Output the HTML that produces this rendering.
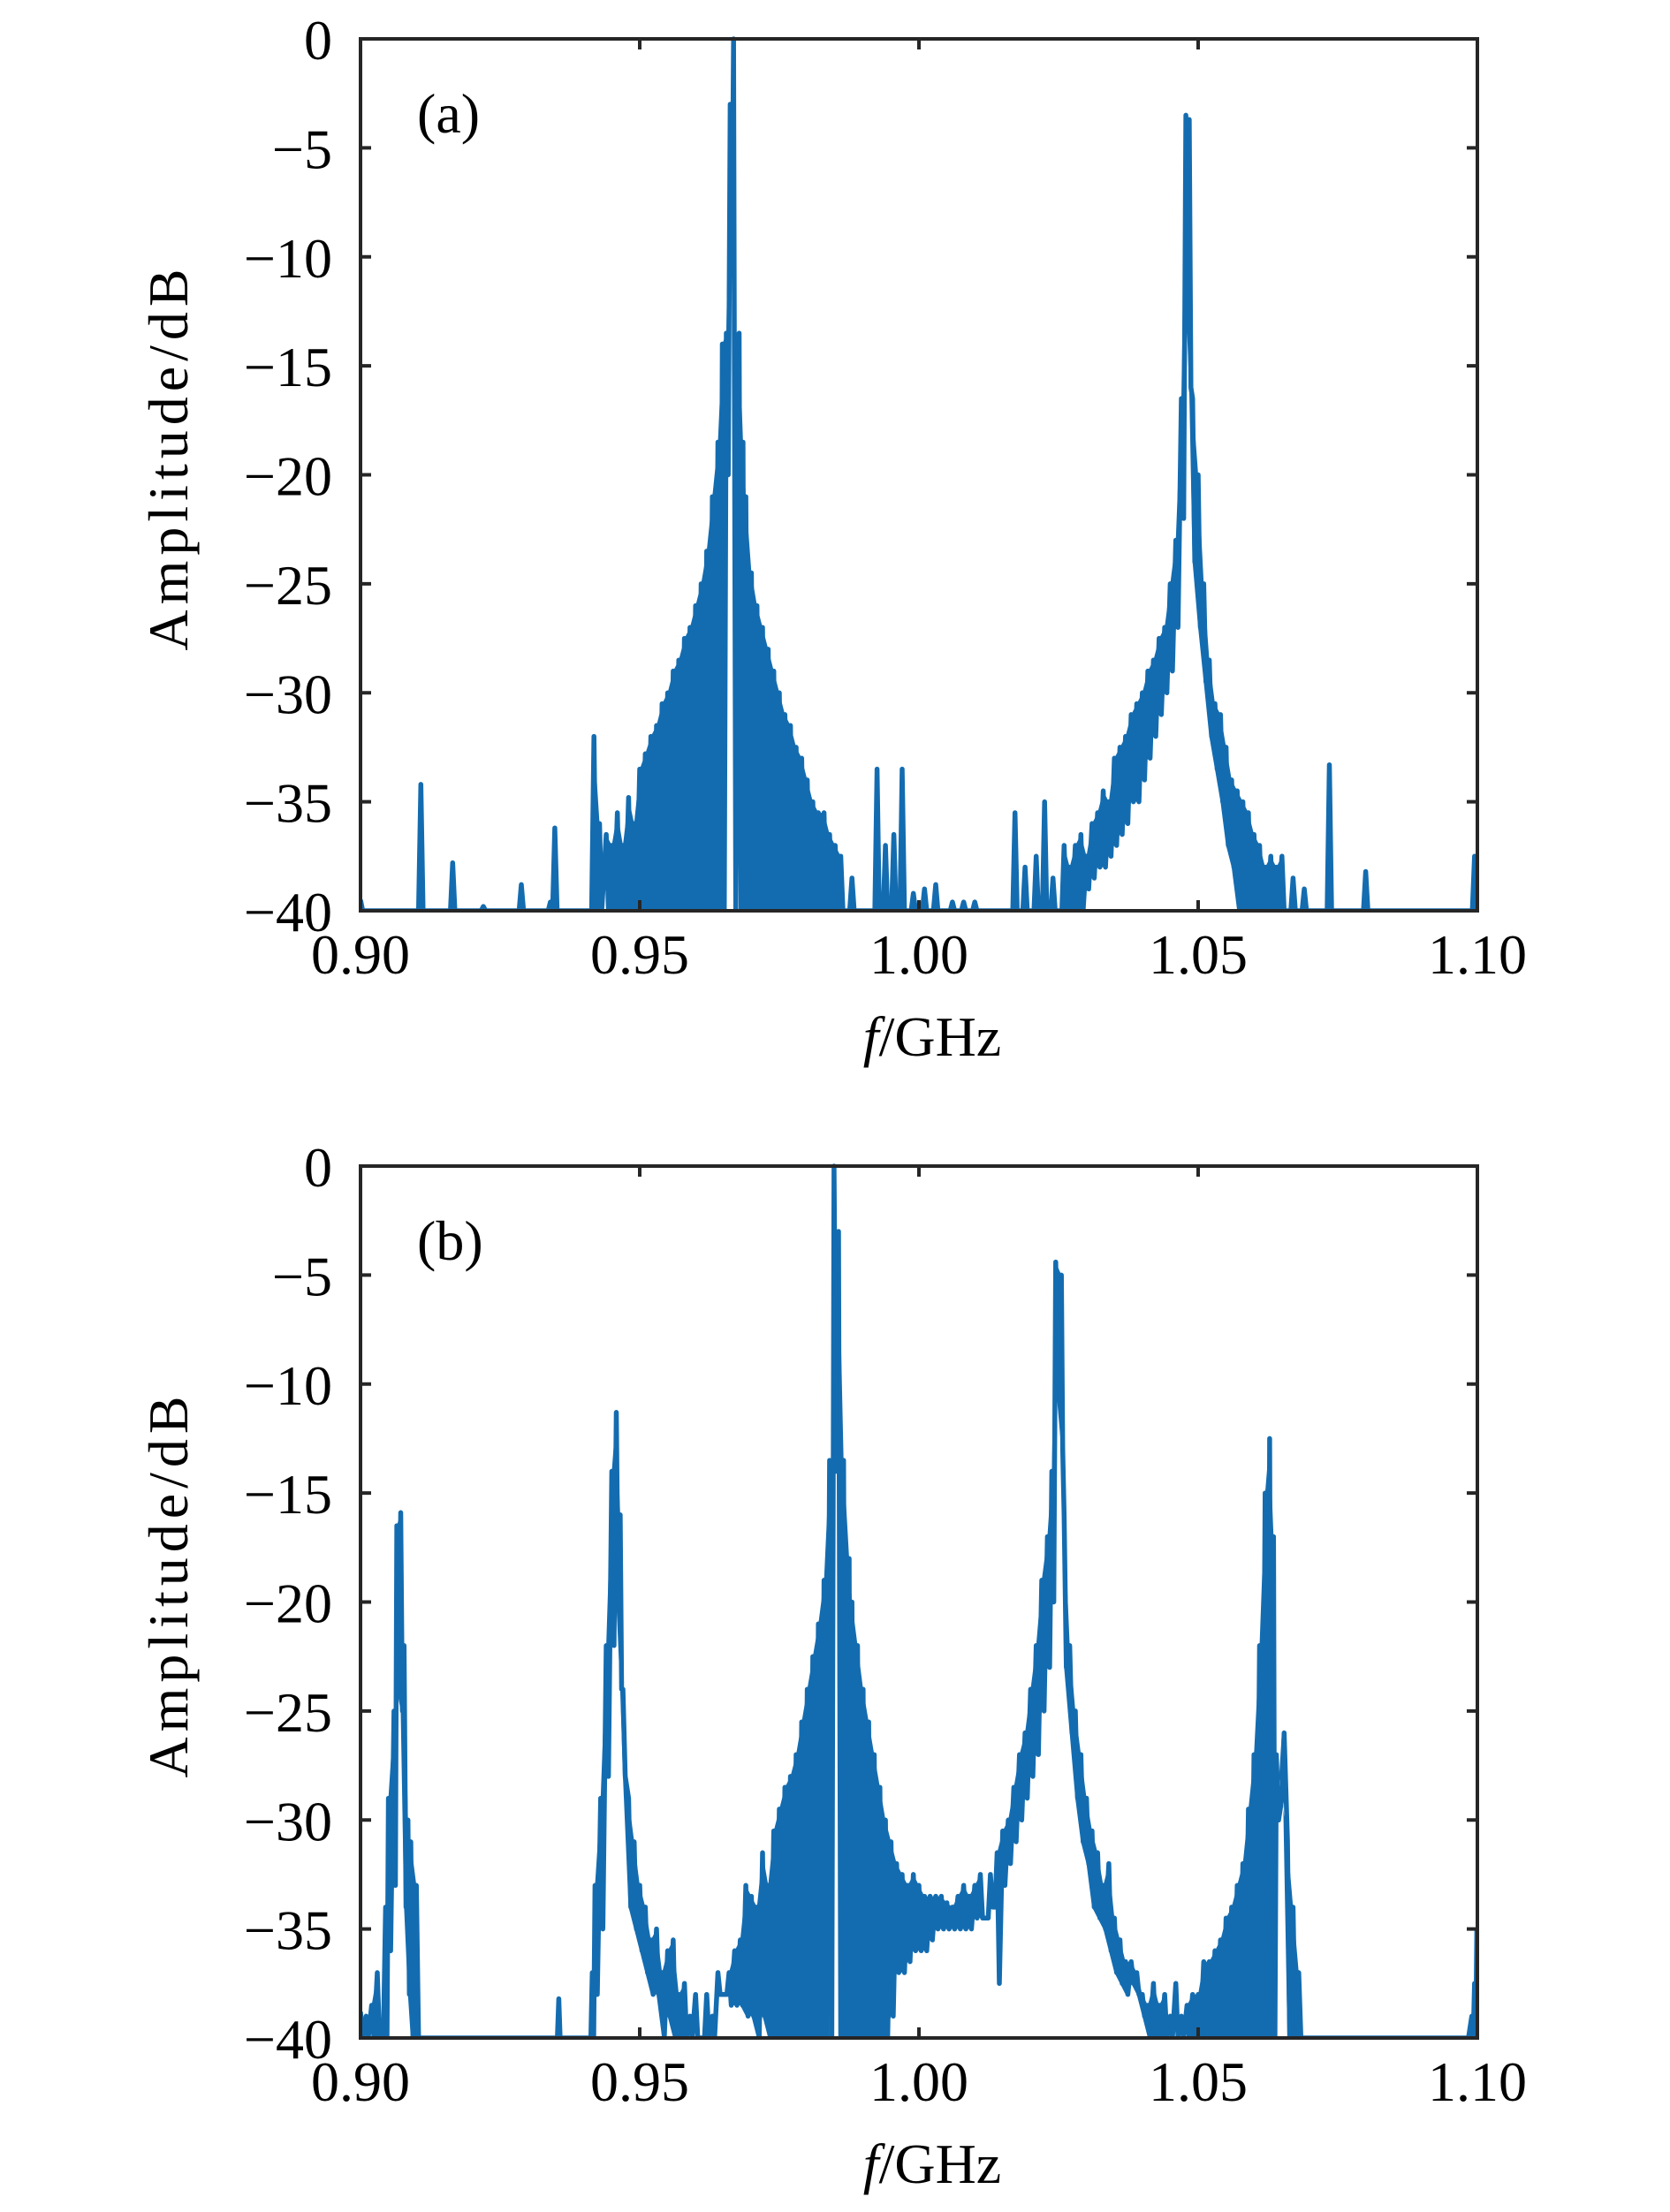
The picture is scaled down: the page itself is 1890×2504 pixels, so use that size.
<!DOCTYPE html>
<html><head><meta charset="utf-8">
<style>
html,body{margin:0;padding:0;background:#fff;}
svg{display:block;}
text{font-family:"Liberation Serif",serif;fill:#000;}
</style></head>
<body>
<svg id="chart" width="1890" height="2504" viewBox="0 0 1890 2504" xmlns="http://www.w3.org/2000/svg"></svg>
<script>
// Panel (a) data: frequency (GHz), upper and lower amplitude (dB)
const freqA = [0.900,0.910,0.9108,0.9165,0.922,0.9288,0.934,0.9348,0.9418,0.9428,0.944,0.945,0.946,0.947,0.948,0.949,0.950,0.951,0.952,0.953,0.954,0.955,0.956,0.957,0.958,0.959,0.960,0.961,0.962,0.963,0.964,0.9648,0.9655,0.9662,0.9668,0.9678,0.9685,0.969,0.970,0.971,0.972,0.973,0.974,0.975,0.976,0.977,0.978,0.979,0.980,0.981,0.982,0.983,0.984,0.985,0.986,0.988,0.9925,0.994,0.9955,0.997,0.999,1.001,1.003,1.006,1.008,1.010,1.0172,1.019,1.021,1.0225,1.024,1.026,1.027,1.028,1.029,1.030,1.031,1.032,1.033,1.034,1.035,1.036,1.037,1.038,1.039,1.040,1.041,1.042,1.043,1.044,1.045,1.046,1.047,1.0478,1.0484,1.049,1.050,1.051,1.052,1.053,1.054,1.055,1.056,1.057,1.058,1.059,1.060,1.061,1.062,1.063,1.064,1.065,1.067,1.069,1.0735,1.0745,1.080,1.081,1.0995,1.0999];
const hiA = [-39.5,-40,-34.2,-37.8,-39.8,-38.8,-39.6,-36.2,-32.0,-36,-36.5,-37,-35.5,-37,-34.8,-36,-33.5,-32.8,-32,-31.5,-30.5,-30,-29,-28.5,-27.5,-27,-26,-25,-23.5,-21,-18.5,-14,-13.5,-3,0,-13.5,-18.5,-21,-24.5,-26,-27,-28,-29,-30,-31,-31.5,-32.5,-33,-34,-35,-35.5,-35.5,-36.5,-37,-37.5,-38.5,-33.5,-37,-36.5,-33.5,-39.2,-39,-38.8,-39.6,-39.6,-39.6,-35.5,-38,-37.5,-35,-38.5,-37,-38,-37,-36.5,-37.5,-36,-35.5,-34.5,-35,-33,-32.5,-32,-31,-30.5,-30,-29,-28.5,-27.5,-27,-25,-23,-16.5,-3.5,-3.7,-16.5,-20,-25,-28.5,-30.5,-31,-32.5,-34,-34.5,-35,-35.5,-36.5,-37,-38,-37.5,-38,-37.5,-38.5,-39,-33.3,-40,-38.2,-40,-37.5,-40];
const loA = [-40,-40,-40,-40,-40,-40,-40,-40,-40,-40,-40,-40,-40,-40,-40,-40,-40,-40,-40,-40,-40,-40,-40,-40,-40,-40,-40,-40,-40,-40,-40,-40,-20,-10,-40,-40,-40,-40,-40,-40,-40,-40,-40,-40,-40,-40,-40,-40,-40,-40,-40,-40,-40,-40,-40,-40,-40,-40,-40,-40,-40,-40,-40,-40,-40,-40,-40,-40,-40,-40,-40,-40,-40,-40,-40,-39,-38.5,-38,-38,-37.5,-37,-36.5,-36,-35,-35,-34,-33,-32,-31,-30,-29,-27,-22,-12,-16,-24,-27,-29.5,-32,-33.5,-35,-37,-38,-40,-40,-40,-40,-40,-40,-40,-40,-40,-40,-40,-40,-40,-40,-40,-40,-40];
// Panel (b) data
const freqB = [0.900,0.901,0.902,0.903,0.9045,0.905,0.906,0.9065,0.9072,0.9078,0.9085,0.909,0.910,0.911,0.935,0.9355,0.936,0.941,0.9415,0.942,0.943,0.944,0.945,0.9458,0.9465,0.947,0.948,0.949,0.950,0.951,0.952,0.953,0.954,0.955,0.956,0.957,0.958,0.959,0.960,0.962,0.963,0.964,0.966,0.967,0.968,0.969,0.970,0.971,0.972,0.973,0.974,0.975,0.976,0.977,0.978,0.979,0.980,0.981,0.982,0.983,0.984,0.9848,0.9856,0.9865,0.9875,0.988,0.989,0.990,0.991,0.992,0.993,0.994,0.995,0.996,0.997,0.998,0.999,1.000,1.001,1.002,1.003,1.004,1.005,1.006,1.007,1.008,1.009,1.010,1.011,1.0128,1.014,1.015,1.016,1.017,1.018,1.019,1.020,1.021,1.022,1.023,1.0238,1.0245,1.0255,1.026,1.027,1.028,1.029,1.030,1.031,1.032,1.033,1.034,1.035,1.036,1.037,1.038,1.039,1.040,1.041,1.042,1.043,1.044,1.045,1.046,1.047,1.048,1.049,1.050,1.051,1.052,1.053,1.054,1.055,1.056,1.057,1.058,1.059,1.060,1.061,1.062,1.0628,1.0635,1.064,1.065,1.066,1.067,1.068,1.069,1.097,1.098,1.099,1.0995,1.0999];
const hiB = [-38.8,-39,-38.5,-37,-34,-29,-25,-16.5,-15.9,-22,-30,-31,-33,-40,-40,-38.2,-40,-40,-37,-33,-29,-22,-14,-11.3,-16,-24,-29,-31,-33,-34,-35.5,-35,-37,-36,-35.5,-38,-37.5,-39,-38,-38,-39,-37,-37,-36,-35.5,-33,-33.5,-34,-31.5,-33,-30.5,-29.5,-28.5,-28,-27,-25.5,-24,-22.5,-21,-19,-13.5,0,-3,-13.5,-18,-20,-22,-24,-25.5,-27,-28.5,-30,-31,-32,-32.5,-33,-32.5,-33,-33.5,-33.5,-33.5,-33.5,-33.8,-34,-33.5,-33,-33.5,-33,-32.5,-32.5,-31.5,-30.5,-30,-28.5,-27,-26,-24,-22,-19,-17,-14,-4.4,-5,-16,-22,-25,-27,-29,-30.5,-31.5,-33,-32,-34.5,-35.5,-36.5,-36.5,-37,-38,-38.5,-37.5,-38.5,-38,-39,-37.5,-39,-38.5,-38,-38,-36.5,-36.5,-36,-35.5,-34.5,-34,-33,-32,-29.5,-27,-22,-15,-12.5,-17,-27,-29,-31,-34,-37,-40,-40,-40,-39,-37.5,-35,-36.5];
const loB = [-40,-40,-40,-40,-40,-36,-33,-24,-25,-34,-38,-40,-40,-40,-40,-40,-40,-40,-40,-38,-35,-28,-22,-20,-24,-28,-34,-35,-36,-37,-38,-38,-40,-39,-40,-40,-40,-40,-40,-40,-40,-38,-38.5,-38.5,-38.5,-39,-39,-40,-39,-40,-40,-40,-40,-40,-40,-40,-40,-40,-40,-40,-40,-14,-40,-40,-40,-40,-40,-40,-40,-40,-40,-40,-39,-37,-37,-36.5,-36,-36,-36,-35.5,-35,-35,-35,-35,-35,-35,-35,-34.5,-34.5,-34,-37.5,-33,-32,-31,-30,-29,-28,-27,-25,-23,-20,-10,-13,-23,-26,-29,-31,-32,-34,-34.5,-35,-36,-37,-37.5,-38,-37.5,-38,-39,-40,-40,-40,-40,-40,-40,-40,-40,-40,-40,-40,-40,-40,-40,-40,-40,-40,-40,-40,-40,-40,-40,-40,-40,-30,-26,-40,-40,-40,-40,-40,-40,-40,-40,-40,-40,-40,-40,-40,-40];
const xTicks = [0.90,0.95,1.00,1.05,1.10];
const xTickLabels = ["0.90","0.95","1.00","1.05","1.10"];
const yTicks = [0,-5,-10,-15,-20,-25,-30,-35,-40];
const yTickLabels = ["0","−5","−10","−15","−20","−25","−30","−35","−40"];

const NS = "http://www.w3.org/2000/svg";
const svg = document.getElementById('chart');
const X0 = 408, X1 = 1672, PH = 987;
const COL = '#146cb0';
function xs(f){ return X0 + (f - 0.9) / 0.2 * (X1 - X0); }
function mk(tag, attrs, parent){
  const e = document.createElementNS(NS, tag);
  for (const k in attrs) e.setAttribute(k, attrs[k]);
  parent.appendChild(e);
  return e;
}
function panel(top, freq, hi, lo, label, key){
  const ys = v => top + (-v) / 40 * PH;
  const bottom = top + PH;
  const g = mk('g', {}, svg);
  
  
  const cp = mk('clipPath', {id: 'clip' + key}, g);
  mk('rect', {x: X0, y: top - 3, width: X1 - X0, height: PH + 3}, cp);
  const d = 0.0004;
  // dense filled band
  let fillPath = '';
  for (let i = 0; i < freq.length - 1; i++){
    const gap = freq[i+1] - freq[i];
    if (gap <= 0.00105 && hi[i] > -39 && hi[i+1] > -39 && hi[i] < -1 && hi[i+1] < -1){
      fillPath += 'M' + xs(freq[i]).toFixed(1) + ',' + ys(hi[i]).toFixed(1) +
        'L' + xs(freq[i+1]).toFixed(1) + ',' + ys(hi[i+1]).toFixed(1) +
        'L' + xs(freq[i+1]).toFixed(1) + ',' + ys(lo[i+1]).toFixed(1) +
        'L' + xs(freq[i]).toFixed(1) + ',' + ys(lo[i]).toFixed(1) + 'Z';
    }
  }
  const band = mk('path', {d: fillPath, fill: COL, 'clip-path': 'url(#clip' + key + ')'}, g);
  
  
  // zigzag line
  let pts = [];
  for (let i = 0; i < freq.length; i++){
    pts.push(xs(freq[i]).toFixed(1) + ',' + ys(hi[i]).toFixed(1));
    if (i < freq.length - 1){
      const gap = freq[i+1] - freq[i];
      const dd = Math.min(d, gap / 2);
      pts.push(xs(freq[i] + dd).toFixed(1) + ',' + ys(lo[i]).toFixed(1));
      if (gap > 0.0012) pts.push(xs(freq[i+1] - d).toFixed(1) + ',' + ys(lo[i]).toFixed(1));
    }
  }
  const line = mk('polyline', {points: pts.join(' '), fill: 'none', stroke: COL, 'stroke-width': 5.5, 'stroke-linejoin': 'round', 'clip-path': 'url(#clip' + key + ')'}, g);
  
  
  for (let i = 0; i < xTicks.length; i++){
    const x = xs(xTicks[i]);
    mk('line', {x1: x, x2: x, y1: bottom, y2: bottom - 12, stroke: '#262626', 'stroke-width': 4}, g);
    mk('line', {x1: x, x2: x, y1: top, y2: top + 12, stroke: '#262626', 'stroke-width': 4}, g);
    const t = mk('text', {x: x, y: bottom + 71, 'font-size': 64, 'text-anchor': 'middle'}, g);
    t.textContent = xTickLabels[i];
    
    
  }
  for (let i = 0; i < yTicks.length; i++){
    const y = ys(yTicks[i]);
    mk('line', {x1: X0, x2: X0 + 12, y1: y, y2: y, stroke: '#262626', 'stroke-width': 4}, g);
    mk('line', {x1: X1, x2: X1 - 12, y1: y, y2: y, stroke: '#262626', 'stroke-width': 4}, g);
    const t = mk('text', {x: 376, y: y + 23, 'font-size': 64, 'text-anchor': 'end'}, g);
    t.textContent = yTickLabels[i];
    
    
  }
  const box = mk('rect', {x: X0, y: top, width: X1 - X0, height: PH, fill: 'none', stroke: '#262626', 'stroke-width': 4}, g);
  
  
  const pl = mk('text', {x: 472, y: top + 106, 'font-size': 64}, g);
  pl.textContent = label;
  
  
  const yl = mk('text', {x: 0, y: 0, 'font-size': 64, 'text-anchor': 'middle', 'letter-spacing': '6', transform: 'translate(212,' + (top + PH/2 - 20) + ') rotate(-90)'}, g);
  yl.textContent = 'Amplitude/dB';
  
  
  const xl = mk('text', {x: (X0 + X1)/2 + 15, y: bottom + 164, 'font-size': 64, 'text-anchor': 'middle'}, g);
  const fi = mk('tspan', {'font-style': 'italic'}, xl);
  fi.textContent = 'f';
  const rest = mk('tspan', {}, xl);
  rest.textContent = '/GHz';
  
  
}
panel(44, freqA, hiA, loA, '(a)', 'a');
panel(1320, freqB, hiB, loB, '(b)', 'b');
</script>
</body></html>
